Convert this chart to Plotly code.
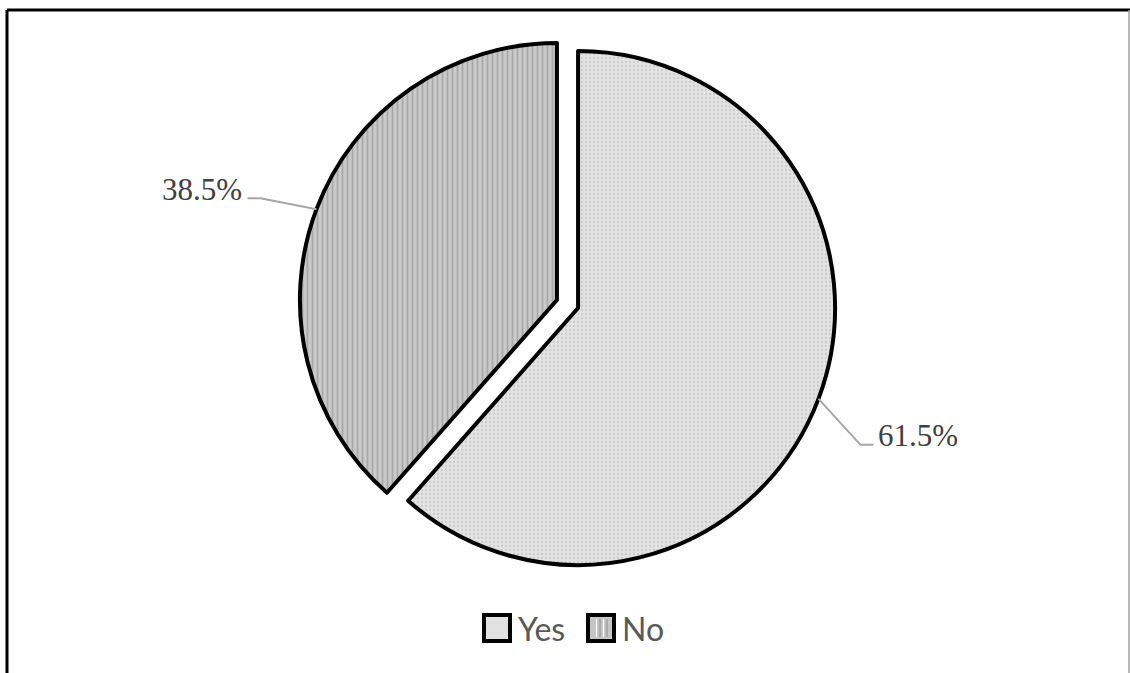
import math
import plotly.graph_objects as go

# Survey answers
labels = ["Yes", "No"]
values = [61.5, 38.5]

W, H = 1130, 673
PULL = 0.044
CX, CY = 567.5, 304.0          # pie centre, px
R = 257.0                      # pie radius, px

FILLS = ["#e1e1e1", "#c6c6c6"]

# domain chosen so the pulled pie gets radius R around (CX, CY)
box = 2 * R * (1 + PULL)
y0 = 1 - (CY + box / 2) / H
y1 = y0 + box / H
xc = CX / W
dom_x = [xc - 0.40, xc + 0.40]
dom_y = [y0, y1]


def px(x, y):
    """pixel -> paper coordinates"""
    return x / W, 1 - y / H


fig = go.Figure()
fig.add_trace(go.Pie(
    labels=labels,
    values=values,
    sort=False,
    direction="clockwise",
    rotation=0,
    pull=[PULL, PULL],
    textinfo="none",
    hoverinfo="label+percent",
    domain=dict(x=dom_x, y=dom_y),
    showlegend=False,
    marker=dict(
        colors=FILLS,
        line=dict(color="#000000", width=4),
        pattern=dict(
            shape=[".", "|"],
            bgcolor=["#e3e3e3", "#cacaca"],
            fgcolor=["#cdcdcd", "#a9a9a9"],
            size=[4, 5],
            solidity=[0.25, 0.35],
            fillmode="replace",
        ),
    ),
))

# outside percentage labels with elbow leader lines
total = sum(values)
shapes = []
annotations = []
start = 0.0
label_cfg = {
    "Yes": dict(diag=(42, 46), run=13, gap=3),
    "No": dict(diag=(-56, -11), run=-13, gap=-4),
}
for lab, v in zip(labels, values):
    frac = v / total
    mid = (start + frac / 2) * 2 * math.pi
    start += frac
    ux, uy = math.sin(mid), -math.cos(mid)
    cx = CX + PULL * R * ux
    cy = CY + PULL * R * uy
    ex, ey = cx + R * ux, cy + R * uy
    cfg = label_cfg[lab]
    bx, by = ex + cfg["diag"][0], ey + cfg["diag"][1]
    tx, ty = bx + cfg["run"], by
    p = [px(ex, ey), px(bx, by), px(tx, ty)]
    shapes.append(dict(
        type="path", xref="paper", yref="paper",
        path="M{},{} L{},{} L{},{}".format(p[0][0], p[0][1], p[1][0], p[1][1], p[2][0], p[2][1]),
        line=dict(color="#a6a6a6", width=2),
    ))
    ax, ay = px(tx + cfg["gap"], ty - 9)
    annotations.append(dict(
        x=ax, y=ay, xref="paper", yref="paper",
        text=f"{v:.1f}%", showarrow=False,
        xanchor="left" if cfg["run"] > 0 else "right", yanchor="middle",
        font=dict(family="Liberation Serif", size=31, color="#404040"),
    ))

# legend: large outlined swatches with category names
legend_x = [484, 588]
LEG_Y, SW = 628, 26
for i, (lab, x0) in enumerate(zip(labels, legend_x)):
    a = px(x0, LEG_Y - SW / 2)
    b = px(x0 + SW, LEG_Y + SW / 2)
    shapes.append(dict(
        type="rect", xref="paper", yref="paper",
        x0=a[0], x1=b[0], y0=b[1], y1=a[1],
        fillcolor=FILLS[i], line=dict(color="#000000", width=4),
    ))
    if lab == "No":
        for k in range(1, 5):
            sx = x0 + 5 + k * 3.5
            s0 = px(sx, LEG_Y - SW / 2 + 4)
            s1 = px(sx, LEG_Y + SW / 2 - 4)
            shapes.append(dict(
                type="line", xref="paper", yref="paper",
                x0=s0[0], x1=s1[0], y0=s0[1], y1=s1[1],
                line=dict(color="#ffffff" if k % 2 else "#8a8a8a", width=1),
            ))
    t = px(x0 + SW + 6, LEG_Y)
    annotations.append(dict(
        x=t[0], y=t[1], xref="paper", yref="paper",
        text=lab, showarrow=False, xanchor="left", yanchor="middle",
        font=dict(family="Lato", size=32, color="#595959"),
    ))

# chart frame
fx0, fy0 = px(7, 10)
fx1, _ = px(1129, 10)
_, fyb = px(0, 673)
shapes += [
    dict(type="line", xref="paper", yref="paper", x0=fx0, x1=1.0, y0=fy0, y1=fy0,
         line=dict(color="#000000", width=3)),
    dict(type="line", xref="paper", yref="paper", x0=fx0, x1=fx0, y0=fy0, y1=fyb,
         line=dict(color="#000000", width=3)),
    dict(type="line", xref="paper", yref="paper", x0=fx1, x1=fx1, y0=fy0, y1=fyb,
         line=dict(color="#a0a0a0", width=1.5)),
]

fig.update_layout(
    width=W, height=H,
    margin=dict(l=0, r=0, t=0, b=0),
    paper_bgcolor="#ffffff",
    plot_bgcolor="#ffffff",
    showlegend=False,
    shapes=shapes,
    annotations=annotations,
)

fig.write_html("out.html")
